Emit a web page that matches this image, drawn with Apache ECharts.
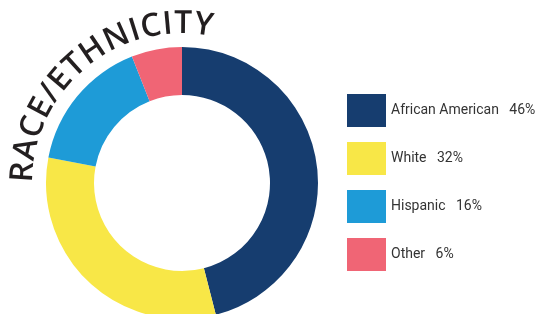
<!DOCTYPE html>
<html>
<head>
<meta charset="utf-8">
<script src="https://cdn.jsdelivr.net/npm/echarts@6/dist/echarts.min.js"></script>
<style>
  html, body { margin: 0; padding: 0; background: #fff; }
  #chart { width: 542px; height: 314px; }
</style>
</head>
<body>
<div id="chart"></div>
<script>
// 数据
const categories = ['African American', 'White', 'Hispanic', 'Other']
const percents = [46, 32, 16, 6]
const colors = ['#163d6f', '#f8e747', '#1e9bd7', '#f06575']
const title = 'RACE/ETHNICITY'

const chart = echarts.init(document.getElementById('chart'))

// 弧形标题：逐字沿圆弧摆放
const cx = 182, cy = 183
const titleFont = '600 32px "Open Sans"'
const ctx = document.createElement('canvas').getContext('2d')
ctx.font = titleFont
const widths = title.split('').map(ch => ctx.measureText(ch).width)
const total = widths.reduce((a, b) => a + b, 0)
const rBase = 148
const startDeg = -90, endDeg = 11.5
const arcLen = (endDeg - startDeg) * Math.PI / 180 * rBase
const spacing = (arcLen - total) / (title.length - 1)
const rMid = 159
const letters = []
let pos = 0
title.split('').forEach((ch, i) => {
  const mid = pos + widths[i] / 2
  const theta = (startDeg * Math.PI / 180) + mid / rBase
  letters.push({
    type: 'text',
    x: cx + rMid * Math.sin(theta),
    y: cy - rMid * Math.cos(theta),
    rotation: -theta,
    style: {
      text: ch,
      font: titleFont,
      fill: '#231f20',
      align: 'center',
      verticalAlign: 'middle'
    }
  })
  pos += widths[i] + spacing
})

const option = {
  backgroundColor: '#fff',
  animation: false,
  color: colors,
  legend: {
    orient: 'vertical',
    left: 347,
    top: 94,
    padding: 0,
    itemWidth: 39,
    itemHeight: 33,
    itemGap: 15,
    icon: 'rect',
    selectedMode: false,
    textStyle: { fontFamily: 'Roboto', fontSize: 14, color: '#333' },
    formatter: name => name + '   ' + percents[categories.indexOf(name)] + '%'
  },
  graphic: letters,
  series: [
    {
      type: 'pie',
      center: [cx, cy],
      radius: [88, 136],
      startAngle: 90,
      clockwise: true,
      label: { show: false },
      labelLine: { show: false },
      emphasis: { disabled: true },
      data: categories.map((c, i) => ({ name: c, value: percents[i] }))
    }
  ]
}

chart.setOption(option)
</script>
</body>
</html>
